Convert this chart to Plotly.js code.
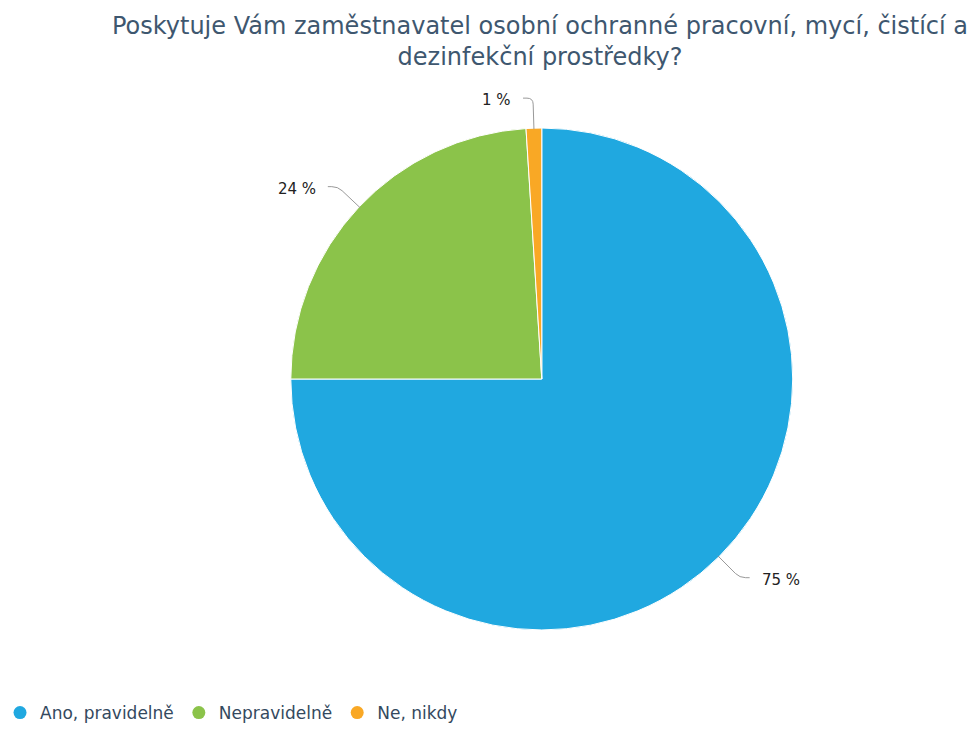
<!DOCTYPE html>
<html>
<head>
<meta charset="utf-8">
<script src="https://cdn.plot.ly/plotly-3.0.1.min.js"></script>
<style>html,body{margin:0;padding:0;background:#fff}#chart{width:970px;height:731px}</style>
</head>
<body>
<div id="chart"></div>
<script>
const categories = ['Ano, pravidelně', 'Nepravidelně', 'Ne, nikdy'];
const values = [75, 24, 1];
const valueLabels = ['75 %', '24 %', '1 %'];
const colors = ['#20a8e0', '#8bc34a', '#f9a825'];
const titleText = 'Poskytuje Vám zaměstnavatel osobní ochranné pracovní, mycí, čistící a<br>dezinfekční prostředky?';

const W = 970, H = 731;
const cx = 540, cy = 379, R = 250;
const px = x => x / W;
const py = y => 1 - y / H;

const traces = [{
  type: 'pie',
  labels: categories,
  values: values,
  marker: {colors: colors, line: {color: '#ffffff', width: 1}},
  sort: false,
  direction: 'clockwise',
  rotation: 0,
  textinfo: 'none',
  hoverinfo: 'label+percent',
  showlegend: false,
  domain: {x: [px(cx - R - 2), px(cx + R + 2)], y: [py(cy + R + 2), py(cy - R - 2)]}
}];
categories.forEach((c, i) => {
  traces.push({
    type: 'scatter', mode: 'markers', x: [null], y: [null], name: c,
    marker: {color: colors[i], size: 13, symbol: 'circle'},
    hoverinfo: 'skip', showlegend: true
  });
});

const total = values.reduce((a, b) => a + b, 0);
const shapes = [], annotations = [];
let cum = 0;
values.forEach((v, i) => {
  const f = (cum + v / 2) / total;
  cum += v;
  const th = 2 * Math.PI * f;
  const s = Math.sin(th), c = Math.cos(th);
  const ex = cx + R * s, ey = cy - R * c;
  const bx = cx + (R + 31) * s, by = cy - (R + 31) * c;
  const dir = s >= 0 ? 1 : -1;
  const hx = bx + 10 * dir, hy = by;
  const len = Math.hypot(bx - ex, by - ey);
  const r = 6;
  const p1x = bx - (bx - ex) / len * r, p1y = by - (by - ey) / len * r;
  const p2x = bx + r * dir, p2y = by;
  shapes.push({
    type: 'path', xref: 'paper', yref: 'paper',
    path: `M ${px(ex)},${py(ey)} L ${px(p1x)},${py(p1y)} Q ${px(bx)},${py(by)} ${px(p2x)},${py(p2y)} L ${px(hx)},${py(hy)}`,
    line: {color: '#999999', width: 1}
  });
  annotations.push({
    xref: 'paper', yref: 'paper',
    x: px(hx + 10 * dir), y: py(hy + 2),
    xanchor: dir > 0 ? 'left' : 'right', yanchor: 'middle',
    text: valueLabels[i], showarrow: false,
    font: {family: 'DejaVu Sans', size: 15, color: '#222222'}
  });
});

const layout = {
  width: W, height: H,
  margin: {l: 0, r: 0, t: 0, b: 0},
  paper_bgcolor: '#ffffff', plot_bgcolor: '#ffffff',
  title: {
    text: titleText, x: px(540), xanchor: 'center', y: py(34), yanchor: 'middle',
    font: {family: 'DejaVu Sans', size: 24, color: '#3e576f'}
  },
  xaxis: {visible: false}, yaxis: {visible: false},
  showlegend: true,
  legend: {
    orientation: 'h', x: -4 / W, xanchor: 'left', y: 0, yanchor: 'bottom',
    font: {family: 'DejaVu Sans', size: 17, color: '#34495e'},
    itemwidth: 30, bgcolor: 'rgba(0,0,0,0)'
  },
  shapes: shapes,
  annotations: annotations
};
Plotly.newPlot('chart', traces, layout, {displayModeBar: false, staticPlot: false});
</script>
</body>
</html>
